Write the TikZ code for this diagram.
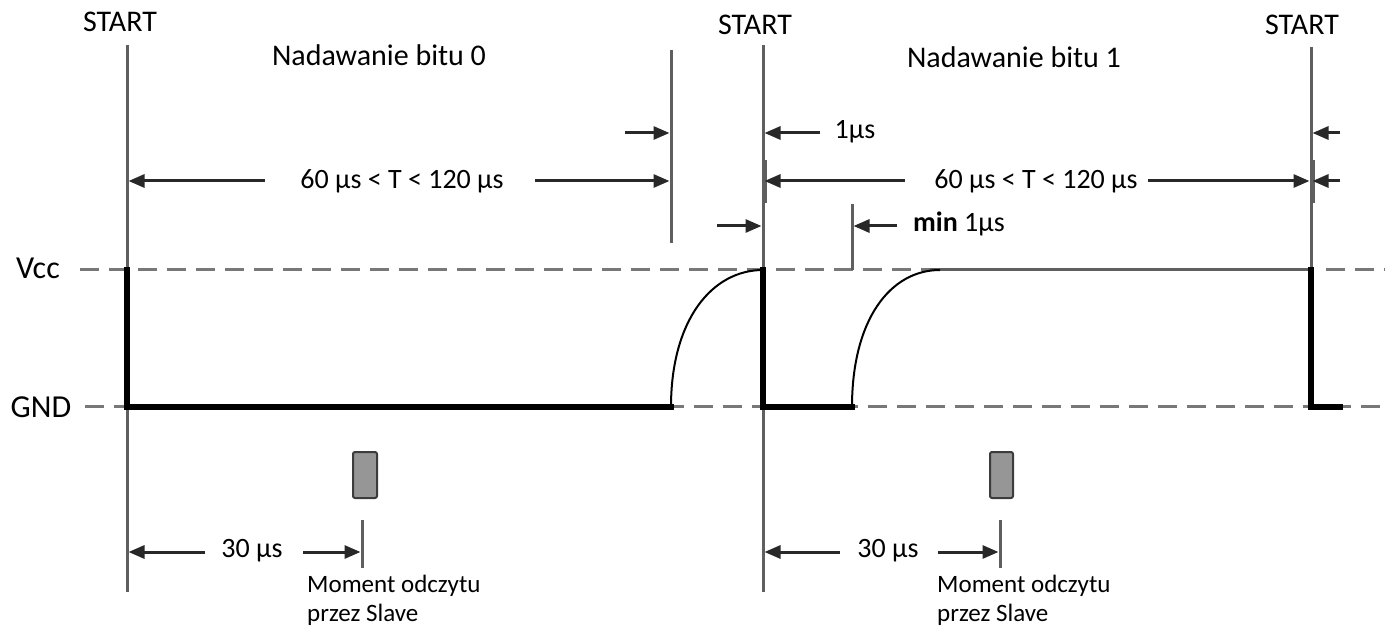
\documentclass[tikz,border=0pt]{standalone}
\usepackage{fontspec}
\setmainfont{Carlito}
\usetikzlibrary{arrows.meta}
\definecolor{linegray}{RGB}{95,95,95}
\definecolor{dashgray}{RGB}{120,120,120}
\definecolor{boxfill}{RGB}{150,150,150}
\definecolor{boxedge}{RGB}{60,60,60}
\definecolor{dimcol}{RGB}{40,40,40}
\begin{document}
\begin{tikzpicture}[x=1pt,y=-1pt,
  guide/.style={draw=linegray, line width=3pt},
  level/.style={draw=dashgray, line width=3pt, dash pattern=on 19pt off 10pt},
  vccsolid/.style={draw=linegray, line width=3pt},
  signal/.style={draw=black, line width=5.5pt, line cap=rect},
  rise/.style={draw=black, line width=2pt},
  dim/.style={draw=dimcol, line width=3pt, -{Triangle[length=16pt,width=13pt]}},
  lbl/.style={font=\fontsize{28}{32}\selectfont, inner sep=0pt},
  ttl/.style={font=\fontsize{30}{36}\selectfont, inner sep=0pt},
  lev/.style={font=\fontsize{32}{36}\selectfont, inner sep=0pt},
  note/.style={font=\fontsize{25}{29}\selectfont, inner sep=0pt, align=left, anchor=west},
  sample/.style={draw=boxedge, fill=boxfill, line width=2pt, rounded corners=2pt}]
\useasboundingbox (0,0) rectangle (1385,628);

% ---- key coordinates
\coordinate (A0) at (127,45);   \coordinate (A1) at (127,592);
\coordinate (B0) at (763,45);   \coordinate (B1) at (763,592);
\coordinate (C0) at (1311,47);  \coordinate (C1) at (1311,270);
\coordinate (E0) at (671,50);   \coordinate (E1) at (671,243);
\coordinate (M0) at (852,204);  \coordinate (M1) at (852,270);

% ---- level lines
\draw[level] (80,270) -- (930,270);
\draw[vccsolid] (930,270) -- (C1);
\draw[level] (1326,270) -- (1385,270);
\draw[level] (85,407) -- (1385,407);

% ---- guide lines
\draw[guide] (A0) -- (A1);
\draw[guide] (B0) -- (B1);
\draw[guide] (C0) -- (C1);
\draw[guide] (E0) -- (E1);
\draw[guide] (M0) -- (M1);
\draw[guide] (765.5,160) -- (765.5,203);
\draw[guide] (1313.5,160) -- (1313.5,203);
\draw[guide] (362,520) -- (362,568);
\draw[guide] (1000,520) -- (1000,568);

% ---- signal
\draw[signal] (127,270) -- (127,407) -- (671,407);
\draw[rise] (671,407) .. controls (671,320) and (712,270) .. (763,270);
\draw[signal] (763,270) -- (763,407) -- (852,407);
\draw[rise] (852,407) .. controls (852,320) and (890,270) .. (940,270);
\draw[signal] (1311,270) -- (1311,407) -- (1340,407);

% ---- labels
\node[ttl] (s0) at (120,22) {START};
\node[ttl] (s1) at (755,25) {START};
\node[ttl] (s2) at (1302,25) {START};
\node[ttl] (n0) at (379,55) {Nadawanie bitu 0};
\node[ttl] (n1) at (1014,57) {Nadawanie bitu 1};
\node[lev] (vcc) at (38,268) {Vcc};
\node[lev] (gnd) at (41,407) {GND};

% ---- dimension arrows, bit 0
\node[lbl] (t0) at (402,181) {60 µs < T < 120 µs};
\draw[dim] (265,181) -- (128.5,181);
\draw[dim] (535,181) -- (669.5,181);
\draw[dim] (625,133) -- (669.5,133);

% ---- dimension arrows, bit 1
\node[lbl] (t1) at (1036,181) {60 µs < T < 120 µs};
\draw[dim] (905,181) -- (764.5,181);
\draw[dim] (1148,181) -- (1309.5,181);
\draw[dim] (1340,181) -- (1312.5,181);
\draw[dim] (1340,133) -- (1312.5,133);
\draw[dim] (820,133) -- (764.5,133);
\node[lbl] (u1) at (855,132) {1µs};
\draw[dim] (717,226) -- (761.5,226);
\draw[dim] (897,226) -- (853.5,226);
\node[lbl, anchor=west] (u2) at (913,224) {\textbf{min} 1µs};

% ---- sampling
\node[sample, minimum width=24pt, minimum height=46pt] (p0) at (365,475) {};
\node[sample, minimum width=23pt, minimum height=46pt] (p1) at (1001.5,475) {};
\node[lbl] (d0) at (252,551) {30 µs};
\draw[dim] (205,552) -- (128.5,552);
\draw[dim] (303,552) -- (360.5,552);
\node[lbl] (d1) at (888,551) {30 µs};
\draw[dim] (840,552) -- (764.5,552);
\draw[dim] (938,552) -- (998.5,552);
\node[note] (m0) at (307,600) {Moment odczytu\\przez Slave};
\node[note] (m1) at (937,600) {Moment odczytu\\przez Slave};
\end{tikzpicture}
\end{document}
